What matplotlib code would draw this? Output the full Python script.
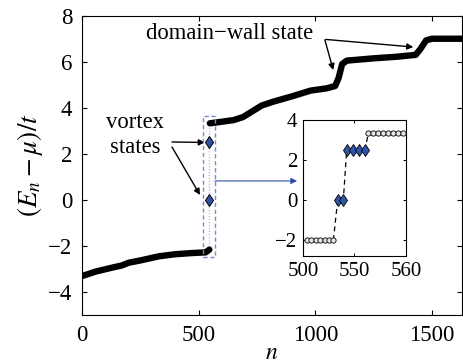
import matplotlib
matplotlib.use("Agg")
import matplotlib.pyplot as plt
from matplotlib.patches import Rectangle

plt.rcParams['font.family'] = ['Liberation Serif', 'DejaVu Serif']
plt.rcParams['mathtext.fontset'] = 'stix'

# ---- data ----
lower_n = [0, 60, 130, 170, 200, 250, 330, 400, 470, 530, 546]
lower_E = [-3.3, -3.1, -2.93, -2.84, -2.72, -2.62, -2.44, -2.35, -2.3, -2.27, -2.15]

upper_n = [548, 600, 650, 690, 730, 770, 820, 900, 980, 1050, 1085, 1100, 1115, 1135,
           1250, 1350, 1430, 1450, 1475, 1500, 1627]
upper_E = [3.33, 3.4, 3.47, 3.6, 3.85, 4.1, 4.27, 4.5, 4.75, 4.85, 4.95, 5.3, 5.9, 6.05,
           6.15, 6.22, 6.3, 6.55, 6.93, 7.0, 7.0]

vortex_n = [546, 546]
vortex_E = [0.0, 2.5]

# inset (positions in inset units)
inset_low_x = [0.8, 1.65, 2.5, 3.35, 4.2, 5.05, 5.9]
inset_low_E = [-2.0] * 7
inset_v0_x = [6.74, 7.83]
inset_v0_E = [0.0, 0.0]
inset_v25_x = [8.49, 9.67, 10.85, 12.04]
inset_v25_E = [2.5] * 4
inset_high_x = [12.68, 13.65, 14.62, 15.6, 16.57, 17.55, 18.52, 19.5]
inset_high_E = [3.35] * 8
inset_xticks = [0, 10, 20]
inset_xticklabels = ['500', '550', '560']

main_xticks = [0, 500, 1000, 1500]
main_yticks = [-4, -2, 0, 2, 4, 6, 8]

fig = plt.figure(figsize=(4.63, 3.64), dpi=100)
ax = fig.add_axes([0.177, 0.1338, 0.820, 0.8231])

ax.plot(lower_n, lower_E, color='black', lw=4.6, solid_capstyle='round', solid_joinstyle='round', zorder=3)
ax.plot(upper_n, upper_E, color='black', lw=4.6, solid_capstyle='round', solid_joinstyle='round', zorder=3)
ax.plot([lower_n[-1]] + vortex_n + [upper_n[0]], [lower_E[-1]] + vortex_E + [upper_E[0]],
        color='#aaaaaa', lw=0.8, ls=':', zorder=2)
ax.plot(vortex_n, vortex_E, ls='none', marker='d', ms=6, mfc='#2e55a8', mec='black', mew=0.7, zorder=4)

ax.add_patch(Rectangle((517, -2.47), 52, 6.12, fill=False, ec='#7090d0', lw=1.0,
                       ls=(0, (3, 2)), zorder=5))

ax.set_xlim(0, 1627)
ax.set_ylim(-5, 8)
ax.set_xticks(main_xticks)
ax.set_yticks(main_yticks)
ax.set_yticklabels(['\u2212' + str(-v) if v < 0 else str(v) for v in main_yticks])
ax.tick_params(direction='in', length=3.5, width=0.8, top=True, right=True, labelsize=16.5, pad=7)
for s in ax.spines.values():
    s.set_linewidth(0.8)
ax.set_xlabel(r'$n$', fontsize=17, labelpad=-2)
ax.set_ylabel(r'$(E_n-\mu)/t$', fontsize=19.5, labelpad=2)

ax.text(227, 3.13, 'vortex', ha='center', va='baseline', fontsize=16.3)
ax.text(227, 2.06, 'states', ha='center', va='baseline', fontsize=16.3)
arrow_kw = dict(arrowstyle='-|>', color='black', lw=1.0, mutation_scale=9, shrinkA=0, shrinkB=0)
ax.annotate('', xy=(527, 2.5), xytext=(386, 2.52), arrowprops=arrow_kw)
ax.annotate('', xy=(506, 0.22), xytext=(386, 2.3), arrowprops=arrow_kw)

ax.text(634, 6.98, 'domain\u2212wall state', ha='center', va='baseline', fontsize=16.3)
ax.annotate('', xy=(1077, 5.64), xytext=(1041, 6.95), arrowprops=arrow_kw)
ax.annotate('', xy=(1420, 6.64), xytext=(1045, 6.97), arrowprops=arrow_kw)

ax.annotate('', xy=(922, 0.83), xytext=(569, 0.83),
            arrowprops=dict(arrowstyle='-|>', color='#3050a8', lw=0.8, mutation_scale=9,
                            shrinkA=0, shrinkB=0))

# inset
ins = fig.add_axes([0.6544, 0.2967, 0.2225, 0.3736])
all_x = inset_low_x + inset_v0_x + inset_v25_x + inset_high_x
all_E = inset_low_E + inset_v0_E + inset_v25_E + inset_high_E
ins.plot(all_x, all_E, color='black', lw=0.9, ls=(0, (4, 3)), zorder=2)
ins.plot(inset_low_x, inset_low_E, ls='none', marker='o', ms=3.8, mfc='#e6e6e6', mec='black', mew=0.6, zorder=3)
ins.plot(inset_high_x, inset_high_E, ls='none', marker='o', ms=3.8, mfc='#e6e6e6', mec='black', mew=0.6, zorder=3)
ins.plot(inset_v0_x, inset_v0_E, ls='none', marker='d', ms=6.5, mfc='#2e55a8', mec='black', mew=0.6, zorder=4)
ins.plot(inset_v25_x, inset_v25_E, ls='none', marker='d', ms=6.5, mfc='#2e55a8', mec='black', mew=0.6, zorder=4)
ins.set_xlim(0, 20)
ins.set_ylim(-2.8, 4)
ins.set_xticks(inset_xticks)
ins.set_xticklabels(inset_xticklabels)
ins.set_yticks([-2, 0, 2, 4])
ins.set_yticklabels(['\u22122', '0', '2', '4'])
ins.tick_params(direction='in', length=2.5, width=0.7, top=True, right=True, labelsize=15, pad=4)
for s in ins.spines.values():
    s.set_linewidth(0.8)

fig.savefig('out.png', dpi=100)
